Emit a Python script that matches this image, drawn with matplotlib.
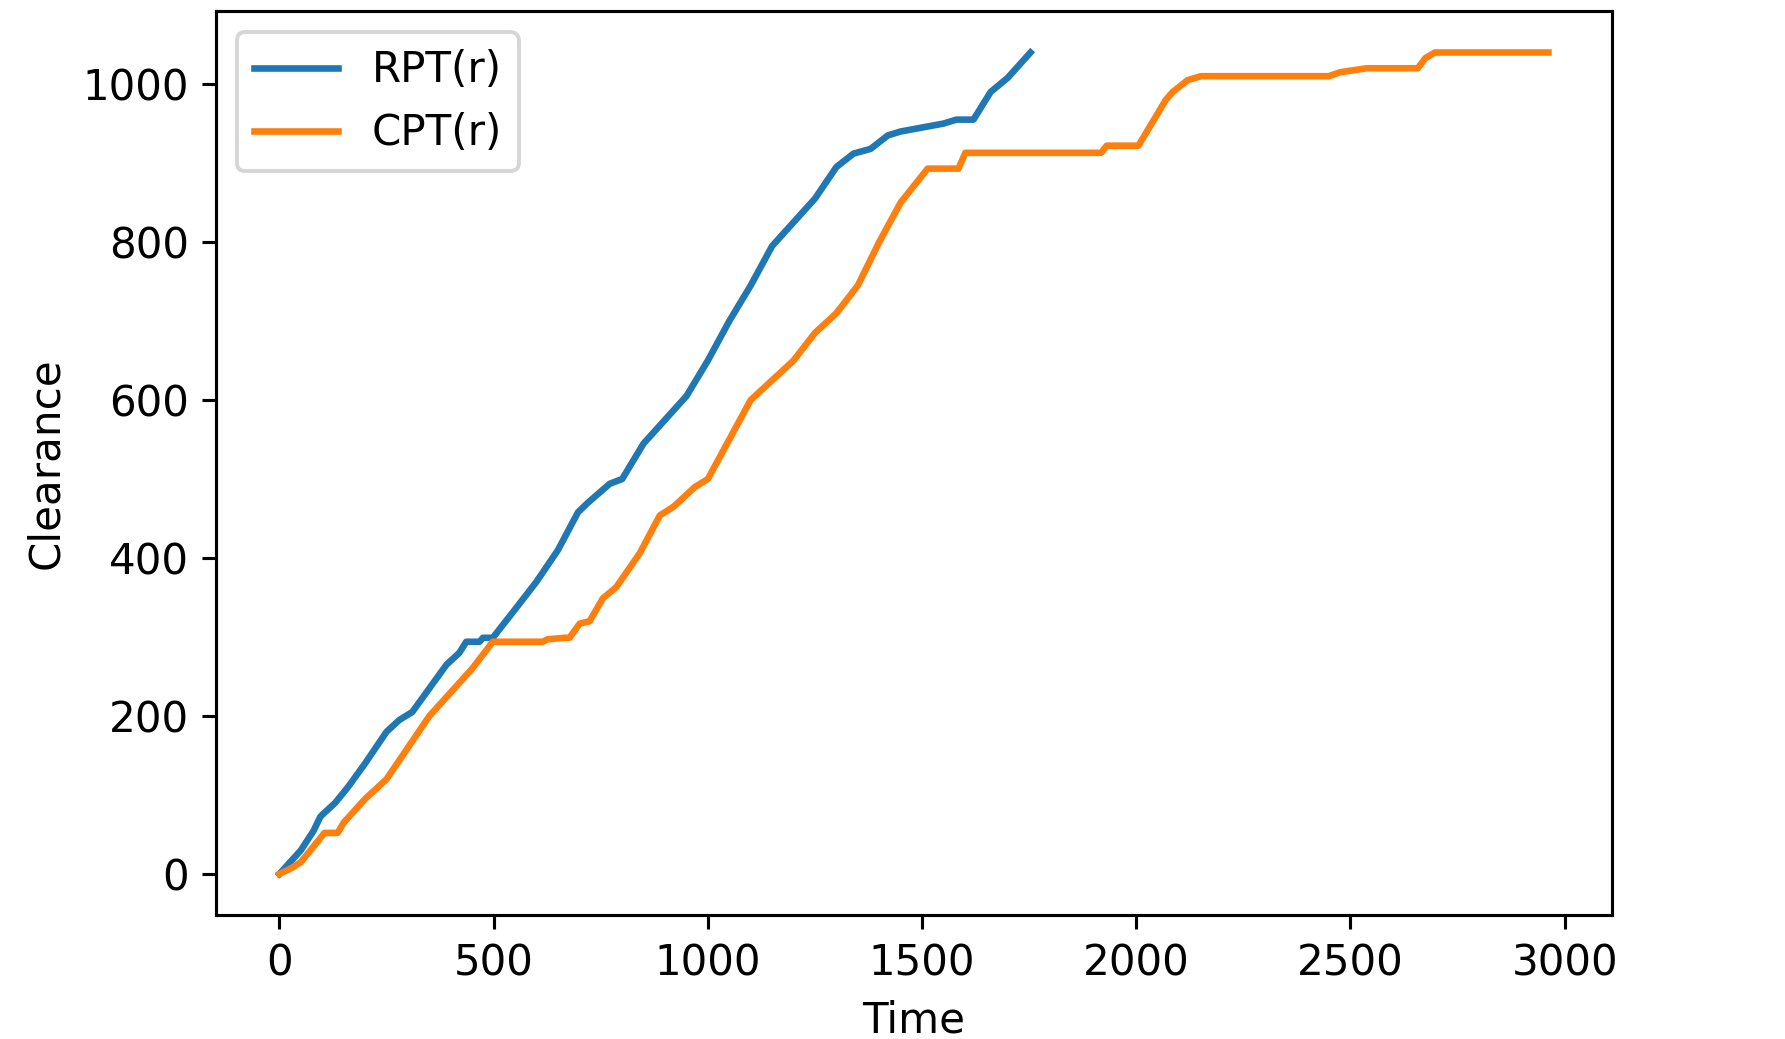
import matplotlib
matplotlib.use("Agg")
import matplotlib.pyplot as plt

# RPT(r) clearance over time
rpt_time = [0, 20, 50, 80, 95, 100, 130, 160, 200, 250, 280, 310, 350, 390, 420,
            436, 467, 475, 498, 550, 600, 650, 697, 720, 771, 800, 850, 900, 950,
            1000, 1050, 1100, 1150, 1200, 1250, 1300, 1340, 1380, 1420, 1450,
            1500, 1550, 1580, 1620, 1660, 1700, 1753]
rpt_clear = [0, 12, 30, 55, 72, 75, 90, 110, 140, 180, 195, 205, 235, 265, 280,
             294, 294, 299, 299, 335, 370, 410, 458, 470, 494, 500, 545, 575, 605,
             650, 700, 745, 795, 825, 855, 895, 912, 918, 935, 940,
             945, 950, 955, 955, 990, 1008, 1040]

# CPT(r) clearance over time
cpt_time = [0, 30, 50, 80, 105, 136, 150, 200, 250, 300, 350, 400, 450, 498,
            615, 625, 665, 677, 701, 724, 755, 786, 841, 888, 920, 970, 1000,
            1050, 1100, 1150, 1200, 1250, 1300, 1350, 1400, 1450, 1513, 1585,
            1601, 1918, 1931, 2005, 2069, 2085, 2120, 2151, 2449, 2476, 2537,
            2657, 2675, 2697, 2962]
cpt_clear = [0, 8, 15, 35, 52, 52, 65, 95, 120, 160, 200, 230, 260, 294,
             294, 297, 299, 299, 317, 320, 349, 363, 406, 454, 465, 490, 500,
             550, 600, 625, 650, 685, 710, 745, 800, 850, 893, 893,
             913, 913, 922, 922, 980, 990, 1005, 1010, 1010, 1015, 1020,
             1020, 1033, 1040, 1040]

plt.rcParams["font.size"] = 10.8

fig = plt.figure(figsize=(1785 / 280, 1039 / 280), dpi=280)
ax = fig.add_axes([0.121, 0.1193, 0.782, 0.8697])

ax.plot(rpt_time, rpt_clear, label="RPT(r)", linewidth=1.7)
ax.plot(cpt_time, cpt_clear, label="CPT(r)", linewidth=1.7)

ax.set_xlabel("Time")
ax.set_ylabel("Clearance")
ax.legend(loc="upper left")

fig.savefig("out.png", dpi=280)
